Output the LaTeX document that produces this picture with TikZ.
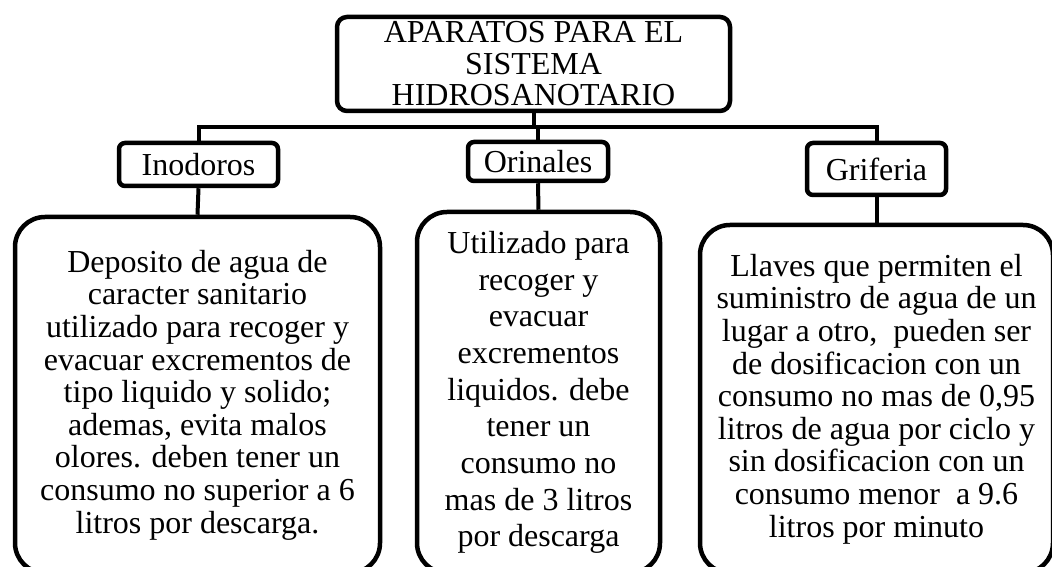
\documentclass[tikz,border=0pt]{standalone}
\usepackage{fontspec}
\setmainfont{Liberation Serif}
\usepackage{tikz}
\usetikzlibrary{positioning}

\begin{document}
\begin{tikzpicture}[x=1pt,y=1pt,
        box/.style={draw=black, line width=4.5pt, rounded corners=#1, align=center,
                    inner sep=0pt, font=\fontsize{32}{32.6}\selectfont},
        conn/.style={draw=black, line width=4pt, line join=miter}]
                \useasboundingbox (0,0) rectangle (1052,567);

                % titulo y aparatos
                \node[box=10pt, minimum width=393, minimum height=94, font=\fontsize{32}{31.5}\selectfont]
                    (title) at (533.5,503) {APARATOS PARA EL\\SISTEMA\\HIDROSANOTARIO};
                \node[box=6pt, minimum width=159, minimum height=43] (ino) at (198.5,402.5) {Inodoros};
                \node[box=6pt, minimum width=140, minimum height=39] (ori) at (538,405.5)   {Orinales};
                \node[box=6pt, minimum width=139, minimum height=52] (gri) at (876.5,398)   {Griferia};

                % descripciones
                \node[box=30pt, minimum width=365, minimum height=356] (txt1) at (197.5,172) {Deposito de agua de\\caracter sanitario\\utilizado para recoger y\\evacuar excrementos de\\tipo liquido y solido;\\ademas, evita malos\\olores. deben tener un\\consumo no superior a 6\\litros por descarga.};
                \node[box=30pt, minimum width=243, minimum height=361, font=\fontsize{32}{36.7}\selectfont]
                    (txt2) at (538.5,174.5) {Utilizado para\\recoger y\\evacuar\\excrementos\\liquidos. debe\\tener un\\consumo no\\mas de 3 litros\\por descarga};
                \node[box=30pt, minimum width=353, minimum height=348] (txt3) at (876.5,168) {Llaves que permiten el\\suministro de agua de un\\lugar a otro,\ \ pueden ser\\de dosificacion con un\\consumo no mas de 0,95\\litros de agua por ciclo y\\sin dosificacion con un\\consumo menor\ \ a 9.6\\litros por minuto};

                \coordinate (busL) at (198.5,440);
                \coordinate (busR) at (876.5,440);

                \draw[conn] (title.south) -- (title.south |- busL);
                \draw[conn] (ino.north) -- (busL) -- (busR) -- (gri.north);
                \draw[conn] (ori.north) -- (ori.north |- busL);
                \draw[conn] (ino.south) -- (txt1.north);
                \draw[conn] (ori.south) -- (txt2.north);
                \draw[conn] (gri.south) -- (txt3.north);
\end{tikzpicture}
\end{document}
